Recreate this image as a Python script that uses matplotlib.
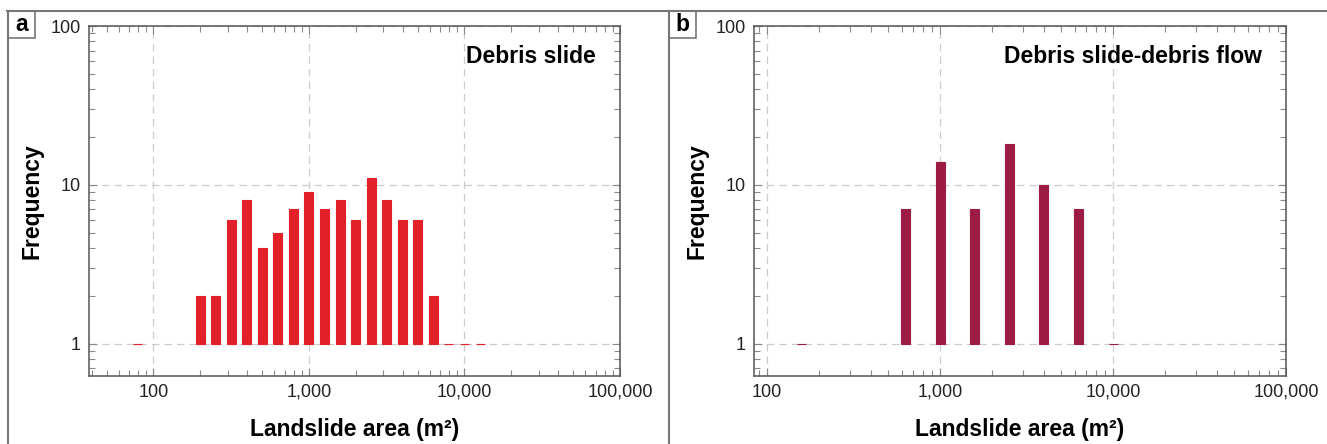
import matplotlib
matplotlib.use("Agg")
import matplotlib.pyplot as plt
import numpy as np
from matplotlib.patches import Rectangle
from matplotlib.lines import Line2D
from matplotlib.ticker import LogLocator, NullFormatter

plt.rcParams['font.family'] = ['Liberation Sans', 'DejaVu Sans']

# panel a: debris slide (bin centre area in m2, frequency)
area_a = [79, 200, 251, 316, 398, 501, 631, 794, 1000, 1259, 1585, 1995,
          2512, 3162, 3981, 5012, 6310, 7943, 10000, 12589]
freq_a = [1, 2, 2, 6, 8, 4, 5, 7, 9, 7, 8, 6, 11, 8, 6, 6, 2, 1, 1, 1]

# panel b: debris slide-debris flow
area_b = [158, 631, 1000, 1585, 2512, 3981, 6310, 10000]
freq_b = [1, 7, 14, 7, 18, 10, 7, 1]

xticks = [100, 1000, 10000, 100000]
xtick_labels = ["100", "1,000", "10,000", "100,000"]
yticks = [1, 10, 100]
ytick_labels = ["1", "10", "100"]

fig = plt.figure(figsize=(13.27, 4.44), dpi=100)


def panel(rect, areas, freqs, color, xlo, bw, title):
    ax = fig.add_axes(rect)
    areas = np.array(areas, dtype=float)
    freqs = np.array(freqs, dtype=float)
    # bars run from 1 upward in log space, with constant log width
    left = areas * 10 ** (-bw / 2)
    right = areas * 10 ** (bw / 2)
    ax.bar(left, freqs - 1, width=right - left, bottom=1, align='edge',
           color=color, edgecolor=color, linewidth=0.8, zorder=3)
    ax.set_xscale('log')
    ax.set_yscale('log')
    ax.set_xlim(xlo, 100000)
    ax.set_ylim(0.63, 100)
    ax.set_xticks(xticks)
    ax.set_xticklabels(xtick_labels)
    ax.set_yticks(yticks)
    ax.set_yticklabels(ytick_labels)
    ax.xaxis.set_minor_locator(LogLocator(base=10, subs=np.arange(2, 10)))
    ax.yaxis.set_minor_locator(LogLocator(base=10, subs=np.arange(2, 10)))
    ax.xaxis.set_minor_formatter(NullFormatter())
    ax.yaxis.set_minor_formatter(NullFormatter())
    ax.tick_params(which='both', direction='in', top=True, right=True,
                   color='#8a8a8a', labelsize=13, labelcolor='#222222')
    ax.tick_params(which='major', length=6, width=0.8, pad=6)
    ax.tick_params(which='minor', length=4.5, width=0.8)
    ax.grid(True, which='major', linestyle=(0, (6, 4)), color='#cfcaca',
            linewidth=0.9)
    ax.set_axisbelow(True)
    for s in ax.spines.values():
        s.set_color('#555555')
        s.set_linewidth(1.1)
    ax.set_xlabel("Landslide area (m²)", fontsize=16.5,
                  fontweight='bold', labelpad=12)
    ax.set_ylabel("Frequency", fontsize=16.5, fontweight='bold', labelpad=5)
    ax.text(0.955, 0.912, title, transform=ax.transAxes, ha='right',
            va='center', fontsize=16.5, fontweight='bold', zorder=5)
    return ax


panel([89 / 1327, 68.5 / 444, 531 / 1327, 349.5 / 444], area_a, freq_a,
      '#e2202a', 38.5, 0.058, "Debris slide")
panel([754 / 1327, 68.5 / 444, 532 / 1327, 349.5 / 444], area_b, freq_b,
      '#9c1c44', 84, 0.052, "Debris slide-debris flow")

# outer frame lines and panel letters
W, H = 1327.0, 444.0
frame = '#777777'
fig.add_artist(Line2D([7 / W, 1.0], [1 - 11 / H, 1 - 11 / H], color=frame,
                      linewidth=1.5))
fig.add_artist(Line2D([8 / W, 8 / W], [0, 1 - 11 / H], color=frame,
                      linewidth=1.5))
fig.add_artist(Line2D([669 / W, 669 / W], [0, 1 - 11 / H], color=frame,
                      linewidth=1.5))
for x0, lab in [(8, "a"), (669, "b")]:
    fig.add_artist(Rectangle((x0 / W, 1 - 38 / H), 27 / W, 27 / H,
                             transform=fig.transFigure, fill=False,
                             edgecolor=frame, linewidth=1.2))
    fig.text((x0 + 13.5) / W, 1 - 24.5 / H, lab, ha='center', va='center',
             fontsize=16.5, fontweight='bold')

fig.savefig("out.png", dpi=100)
